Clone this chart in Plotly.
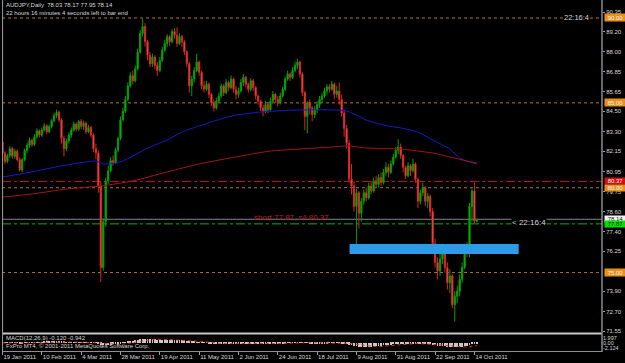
import plotly.graph_objects as go
import pandas as pd

# ---------------- data ----------------
date_labels = ["19 Jan 2011", "10 Feb 2011", "4 Mar 2011", "28 Mar 2011", "19 Apr 2011",
               "11 May 2011", "2 Jun 2011", "24 Jun 2011", "18 Jul 2011", "9 Aug 2011",
               "31 Aug 2011", "22 Sep 2011", "14 Oct 2011"]
date_label_bars = [0, 16, 32, 48, 64, 80, 96, 112, 128, 144, 160, 176, 192]

price_ticks = [90.35, 89.20, 88.00, 86.85, 85.65, 84.50, 83.30, 82.15, 80.95, 79.75,
               78.60, 77.40, 76.25, 73.90, 72.70, 71.55]

first_open = 82.70
close = [82.05, 81.55, 81.90, 82.30, 81.85, 82.15, 81.65, 81.05, 81.65, 82.20,
         82.50, 82.80, 82.55, 83.00, 83.35, 83.10, 83.40, 83.65, 83.30, 83.60,
         83.95, 84.25, 84.45, 84.00, 82.90, 82.30, 82.75, 83.10, 83.40, 83.75,
         83.45, 83.90, 83.60, 83.80, 83.30, 83.55, 83.10, 82.30, 82.05, 80.10,
         75.30, 78.00, 80.40, 81.00, 81.60, 81.45, 82.20, 82.90, 84.00, 84.50,
         85.20, 86.00, 86.60, 86.30, 87.00, 88.00, 89.10, 89.50, 88.60, 87.80,
         87.30, 87.70, 87.20, 86.90, 87.50, 88.10, 88.50, 88.90, 88.60, 89.20,
         89.00, 88.50, 88.90, 88.60, 88.00, 87.30, 86.00, 86.40, 86.90, 87.40,
         86.80, 86.00, 85.80, 86.10, 85.50, 85.00, 84.70, 85.10, 85.40, 86.00,
         85.60, 86.20, 85.90, 86.40, 85.80, 85.50, 85.70, 86.20, 86.50, 86.10,
         85.80, 86.30, 85.90, 85.40, 85.10, 84.70, 84.50, 84.90, 84.60, 85.10,
         85.50, 85.20, 85.00, 85.40, 85.80, 86.40, 86.70, 86.50, 86.90, 87.20,
         87.40, 86.70, 85.60, 84.20, 85.00, 84.70, 84.30, 84.60, 84.90, 85.20,
         85.40, 85.70, 85.95, 85.80, 86.10, 85.50, 85.70, 85.20, 84.40, 83.50,
         82.60, 80.50, 80.10, 78.90, 79.70, 78.50, 79.20, 79.70, 79.40, 80.10,
         79.80, 80.40, 80.20, 80.60, 80.30, 80.90, 81.20, 80.90, 81.40, 81.80,
         82.20, 82.40, 81.90, 81.20, 80.70, 81.30, 81.00, 81.40, 80.50, 79.20,
         79.70, 80.00, 79.20, 79.50, 78.60, 76.70, 75.60, 75.10, 75.80, 76.40,
         75.30, 74.40, 74.80, 73.10, 73.60, 73.90, 74.60, 75.30, 76.50, 76.20,
         78.90, 79.80, 78.03, 78.14]
high = [82.85, 82.15, 82.00, 82.45, 82.40, 82.30, 82.25, 81.80, 81.75, 82.30,
        82.65, 82.95, 82.90, 83.15, 83.50, 83.45, 83.55, 83.80, 83.75, 83.70,
        84.05, 84.40, 84.60, 84.55, 84.10, 83.05, 82.90, 83.25, 83.55, 83.90,
        83.85, 84.00, 84.05, 83.95, 83.90, 83.70, 83.65, 83.20, 82.60, 82.20,
        80.40, 78.20, 80.60, 81.30, 81.80, 81.90, 82.35, 83.00, 84.20, 84.70,
        85.40, 86.20, 86.80, 86.90, 87.20, 88.20, 89.30, 89.95, 89.70, 88.70,
        88.00, 87.90, 87.80, 87.40, 87.70, 88.30, 88.70, 89.05, 89.00, 89.35,
        89.40, 89.45, 89.10, 89.00, 88.70, 88.10, 87.40, 86.60, 87.10, 87.90,
        87.50, 86.90, 86.30, 86.30, 86.20, 85.60, 85.20, 85.30, 85.60, 86.15,
        86.10, 86.40, 86.30, 86.60, 86.50, 86.00, 85.90, 86.40, 86.70, 86.60,
        86.20, 86.45, 86.40, 86.00, 85.50, 85.20, 84.90, 85.10, 85.00, 85.30,
        85.70, 85.60, 85.40, 85.60, 85.95, 86.55, 86.90, 86.80, 87.10, 87.40,
        87.60, 87.50, 86.80, 85.70, 85.10, 85.20, 84.80, 84.80, 85.10, 85.40,
        85.60, 85.90, 86.10, 86.10, 86.30, 86.20, 86.00, 86.20, 85.50, 84.60,
        83.70, 82.80, 81.40, 80.40, 79.95, 79.80, 79.40, 79.90, 80.00, 80.30,
        80.40, 80.60, 80.70, 80.80, 80.90, 81.10, 81.50, 81.40, 81.60, 82.00,
        82.40, 82.85, 82.60, 82.00, 81.30, 81.50, 81.40, 81.70, 81.50, 80.60,
        79.90, 80.30, 80.10, 79.70, 79.60, 78.80, 77.00, 75.90, 76.60, 76.70,
        76.50, 75.60, 75.20, 74.90, 73.90, 74.20, 74.90, 75.60, 76.70, 76.80,
        79.10, 79.95, 80.30, 78.17]
low = [81.95, 81.40, 81.45, 81.75, 81.70, 81.70, 81.55, 80.95, 80.90, 81.55,
       82.05, 82.35, 82.40, 82.45, 82.90, 82.95, 83.00, 83.30, 83.15, 83.20,
       83.50, 83.85, 84.10, 83.85, 82.60, 81.85, 82.15, 82.60, 82.95, 83.30,
       83.30, 83.35, 83.45, 83.40, 83.15, 83.20, 82.95, 82.10, 81.70, 79.70,
       74.45, 75.10, 77.70, 80.20, 80.90, 81.30, 81.40, 82.10, 82.80, 83.90,
       84.40, 85.10, 85.90, 86.10, 86.20, 86.90, 87.90, 88.90, 88.30, 87.50,
       87.10, 87.10, 87.00, 86.60, 86.80, 87.40, 88.00, 88.30, 88.35, 88.50,
       88.80, 88.30, 88.40, 88.30, 87.80, 87.10, 85.60, 85.40, 86.20, 86.80,
       86.60, 85.80, 85.60, 85.70, 85.30, 84.80, 84.50, 84.60, 85.00, 85.30,
       85.40, 85.50, 85.70, 85.80, 85.60, 85.20, 85.30, 85.60, 86.00, 85.90,
       85.60, 85.70, 85.70, 85.20, 84.90, 84.50, 84.20, 84.40, 84.40, 84.50,
       85.00, 85.00, 84.80, 84.90, 85.30, 85.70, 86.30, 86.30, 86.40, 86.80,
       87.00, 86.50, 85.40, 83.40, 83.20, 84.30, 83.90, 84.10, 84.40, 84.70,
       85.00, 85.30, 85.50, 85.60, 85.70, 85.20, 85.30, 84.90, 84.20, 83.00,
       82.30, 80.30, 79.60, 78.60, 76.15, 77.60, 78.00, 79.00, 79.20, 79.30,
       79.60, 79.70, 80.00, 80.00, 80.10, 80.20, 80.70, 80.60, 80.80, 81.30,
       81.70, 82.00, 81.70, 80.90, 80.50, 80.60, 80.70, 80.90, 80.30, 78.80,
       79.00, 79.50, 78.90, 78.80, 78.30, 76.50, 75.30, 74.60, 74.80, 75.50,
       75.00, 74.00, 73.80, 72.90, 72.10, 73.20, 73.60, 74.40, 75.20, 75.90,
       75.90, 78.00, 77.90, 77.95]

# moving averages (bar index, price)
blue_ma_bar = [0, 12, 26, 38, 41, 48, 53, 60, 67, 73, 80, 93, 105, 121, 140, 148, 155,
               162, 169, 175, 182, 186, 189, 193]
blue_ma_val = [80.63, 80.93, 81.34, 81.57, 81.40, 81.52, 81.87, 82.40, 82.81, 83.28, 83.64,
               84.22, 84.46, 84.58, 84.52, 83.99, 83.69, 83.52, 83.28, 82.81, 82.28, 81.75,
               81.57, 81.40]
red_ma_bar = [0, 12, 26, 40, 53, 67, 80, 97, 109, 121, 134, 141, 148, 162, 169, 175, 182,
              189, 193]
red_ma_val = [79.45, 79.63, 79.92, 80.10, 80.40, 80.93, 81.40, 81.87, 82.16, 82.28, 82.40,
              82.46, 82.34, 82.28, 82.16, 82.05, 81.81, 81.57, 81.46]

# horizontal levels
level_orange = [90.00, 85.00, 80.00, 75.00]
level_stop = 80.37
level_entry = 77.87
level_bid = 78.14

# zone rectangle (bar index range, price range)
zone_bars = [141.2, 210.0]
zone_prices = [76.10, 76.68]

macd_tick_vals = [1.997, 0.0, -2.124]
macd_tick_text = ["1.997", "0.00", "-2.124"]

# ---------------- derived ----------------
n = len(close)
bars = list(range(n))
opens = [first_open] + close[:-1]
s = pd.Series(close)
macd = s.ewm(span=12, adjust=False).mean() - s.ewm(span=26, adjust=False).mean()
signal = macd.rolling(9, min_periods=1).mean()

FONT = "Liberation Sans"
TXT = "#D8D8D8"

fig = go.Figure()
fig.add_trace(go.Candlestick(
    x=bars, open=opens, high=high, low=low, close=close,
    increasing=dict(line=dict(color="#00A000", width=1), fillcolor="#00C800"),
    decreasing=dict(line=dict(color="#D82424", width=1), fillcolor="#FF8080"),
    whiskerwidth=0, xaxis="x", yaxis="y", hoverinfo="skip"))
fig.add_trace(go.Scatter(x=blue_ma_bar, y=blue_ma_val, mode="lines",
                         line=dict(color="#1A1AC8", width=1, shape="spline", smoothing=0.6),
                         xaxis="x", yaxis="y", hoverinfo="skip"))
fig.add_trace(go.Scatter(x=red_ma_bar, y=red_ma_val, mode="lines",
                         line=dict(color="#A81414", width=1, shape="spline", smoothing=0.6),
                         xaxis="x", yaxis="y", hoverinfo="skip"))
fig.add_trace(go.Bar(x=bars, y=macd, width=0.35, marker=dict(color="#C8C8C8", line=dict(width=0)),
                     xaxis="x2", yaxis="y2", hoverinfo="skip"))
fig.add_trace(go.Scatter(x=bars, y=signal, mode="lines",
                         line=dict(color="#FF2020", width=1, dash="dot"),
                         xaxis="x2", yaxis="y2", hoverinfo="skip"))

shapes = []
for lv in level_orange:
    shapes.append(dict(type="line", xref="paper", x0=0, x1=1, yref="y", y0=lv, y1=lv,
                       line=dict(color="#B8732E", width=1, dash="dot"), layer="below"))
shapes.append(dict(type="line", xref="paper", x0=0, x1=1, yref="y", y0=level_stop, y1=level_stop,
                   line=dict(color="#D01010", width=1, dash="dashdot"), layer="below"))
shapes.append(dict(type="line", xref="paper", x0=0, x1=1, yref="y", y0=level_entry, y1=level_entry,
                   line=dict(color="#00B800", width=1, dash="dashdot"), layer="below"))
shapes.append(dict(type="line", xref="paper", x0=0, x1=1, yref="y", y0=level_bid, y1=level_bid,
                   line=dict(color="#7A8898", width=1), layer="below"))
shapes.append(dict(type="rect", xref="x", yref="y", x0=zone_bars[0], x1=zone_bars[1],
                   y0=zone_prices[0], y1=zone_prices[1], fillcolor="#2E9BE8",
                   line=dict(width=0), layer="above"))
# frame lines
shapes.append(dict(type="line", xref="paper", yref="paper", x0=0, x1=1, y0=0.0525, y1=0.0525,
                   line=dict(color="#C8C8C8", width=2)))
shapes.append(dict(type="line", xref="paper", yref="paper", x0=0.001, x1=0.001, y0=0, y1=1,
                   line=dict(color="#A0A0A0", width=1)))
shapes.append(dict(type="line", xref="paper", yref="paper", x0=1, x1=1, y0=0, y1=1,
                   line=dict(color="#8A8A8A", width=1.5)))

ann = []
ann.append(dict(text="AUDJPY,Daily  78.03 78.17 77.95 78.14", xref="paper", yref="paper",
                x=0.004, y=0.986, xanchor="left", yanchor="middle", showarrow=False,
                font=dict(family=FONT, size=6, color=TXT)))
ann.append(dict(text="22 hours 16 minutes 4 seconds left to bar end", xref="paper", yref="paper",
                x=0.004, y=0.964, xanchor="left", yanchor="middle", showarrow=False,
                font=dict(family=FONT, size=6, color=TXT)))
ann.append(dict(text="22:16:4", xref="paper", yref="y", x=0.957, y=90.00, xanchor="center",
                yanchor="middle", showarrow=False, bgcolor="#000000", borderpad=0,
                font=dict(family=FONT, size=7.5, color=TXT)))
ann.append(dict(text="&lt; 22:16:4", xref="paper", yref="y", x=0.878, y=77.97, xanchor="center",
                yanchor="middle", showarrow=False, bgcolor="#000000", borderpad=0,
                font=dict(family=FONT, size=8, color=TXT)))
ann.append(dict(text="short 77.87, s/l 80.37", xref="x", yref="y", x=117.4, y=78.26,
                xanchor="center", yanchor="middle", showarrow=False,
                font=dict(family=FONT, size=8, color="#B82020")))
ann.append(dict(text="MACD(12,26,9) -0.120 -0.942", xref="paper", yref="paper",
                x=0.004, y=0.040, xanchor="left", yanchor="middle", showarrow=False,
                font=dict(family=FONT, size=6, color=TXT)))
ann.append(dict(text="FxPro MT4, © 2001-2011 MetaQuotes Software Corp.", xref="paper", yref="paper",
                x=0.004, y=0.016, xanchor="left", yanchor="middle", showarrow=False,
                font=dict(family=FONT, size=6, color=TXT)))

boxes = [(90.00, "#E8901C", "#F0F0F0", 7), (85.00, "#E8901C", "#F0F0F0", 7),
         (level_stop, "#D01010", "#F0F0F0", 6), (80.00, "#E8901C", "#F0F0F0", 6),
         (level_bid, "#F4F4F4", "#202020", 6), (level_entry, "#00E000", "#202020", 6),
         (75.00, "#E8901C", "#F0F0F0", 7)]
for val, bg, fc, hgt in boxes:
    ann.append(dict(text=f"{val:.2f}", xref="paper", yref="y", x=1.0025, y=val,
                    xanchor="left", yanchor="middle", showarrow=False, bgcolor=bg,
                    borderpad=0, width=21, height=hgt,
                    font=dict(family=FONT, size=6, color=fc)))

fig.update_layout(
    width=625, height=363, margin=dict(l=2, r=23, t=0, b=11, autoexpand=False),
    paper_bgcolor="#000000", plot_bgcolor="#000000", showlegend=False,
    shapes=shapes, annotations=ann, bargap=0,
    xaxis=dict(domain=[0, 1], range=[-0.2, 243.9], anchor="y", showticklabels=False,
               showgrid=False, zeroline=False, rangeslider=dict(visible=False), ticks="",
               automargin=False),
    yaxis=dict(domain=[0.054, 1], range=[71.44, 91.06], side="right", anchor="x",
               tickvals=price_ticks, ticktext=[f"{v:.2f}" for v in price_ticks],
               tickfont=dict(family=FONT, size=6, color=TXT), ticks="outside", ticklen=2,
               tickcolor="#A0A0A0", showgrid=False, zeroline=False, automargin=False),
    xaxis2=dict(domain=[0, 1], range=[-0.2, 243.9], anchor="y2", tickvals=date_label_bars,
                ticktext=date_labels, ticklabelposition="outside right", tickangle=0,
                tickfont=dict(family=FONT, size=6, color=TXT), ticks="outside", ticklen=3,
                tickcolor="#A0A0A0", showline=True, linecolor="#909090", showgrid=False,
                zeroline=False, automargin=False),
    yaxis2=dict(domain=[0.003, 0.048], range=[-3.36, 3.23], side="right", anchor="x2",
                tickvals=macd_tick_vals, ticktext=macd_tick_text,
                tickfont=dict(family=FONT, size=5.5, color=TXT), ticks="", showgrid=False,
                zeroline=False, automargin=False),
)

fig.write_html("out.html")
